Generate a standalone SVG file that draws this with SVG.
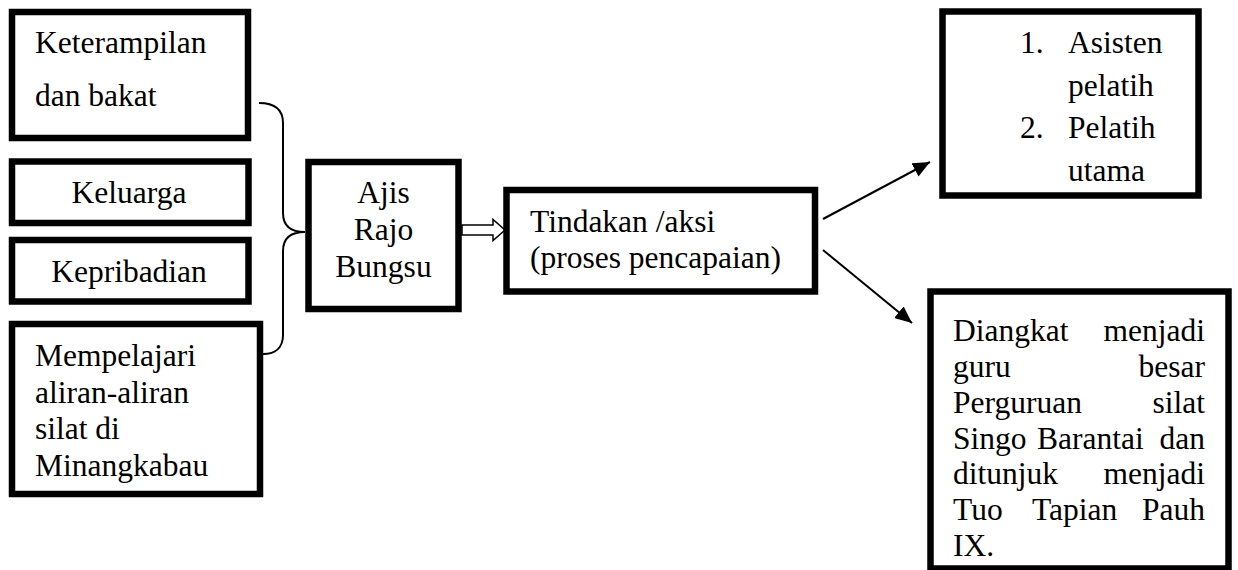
<svg xmlns="http://www.w3.org/2000/svg" width="1238" height="570" viewBox="0 0 1238 570">
<style>
.box{fill:#fff;stroke:#000;stroke-width:6.5}
.t{font-family:"Liberation Serif","Times New Roman",serif;font-size:31.5px;fill:#000}
.c{text-anchor:middle}
.e{text-anchor:end}
.ln{fill:none;stroke:#000;stroke-width:2}
</style>
<defs>
<marker id="ah" markerUnits="userSpaceOnUse" markerWidth="18" markerHeight="16" refX="17" refY="7.5" orient="auto">
<path d="M0,0 L17,7.5 L0,15 z" fill="#000"/>
</marker>
</defs>
<rect width="1238" height="570" fill="#fff"/>
<g id="connectors">
<path class="ln" stroke-width="1.5" d="M259,103 C276,103 283,110 283,123 L283,213 C283,225 290,232 305,232 C290,232 283,239 283,251 L283,335 C283,347 276,354 263,354"/>
<polygon points="462,225 493,225 493,219.5 505,230 493,240.5 493,235 462,235" fill="#fff" stroke="#000" stroke-width="1.5"/>
<line class="ln" x1="823" y1="219" x2="930" y2="162" marker-end="url(#ah)"/>
<line class="ln" x1="823" y1="250" x2="912" y2="323" marker-end="url(#ah)"/>
</g>
<g id="keterampilan">
<rect class="box" x="12" y="12" width="236" height="126"/>
<text class="t" x="35" y="53">Keterampilan</text>
<text class="t" x="35" y="106">dan bakat</text>
</g>
<g id="keluarga">
<rect class="box" x="12" y="161.5" width="236.5" height="61.5"/>
<text class="t c" x="129" y="203">Keluarga</text>
</g>
<g id="kepribadian">
<rect class="box" x="12" y="240" width="236.5" height="61.5"/>
<text class="t c" x="129" y="282">Kepribadian</text>
</g>
<g id="mempelajari">
<rect class="box" x="12" y="324" width="248" height="170"/>
<text class="t" x="35" y="366">Mempelajari</text>
<text class="t" x="35" y="402.5">aliran-aliran</text>
<text class="t" x="35" y="439">silat di</text>
<text class="t" x="35" y="475.5">Minangkabau</text>
</g>
<g id="ajis">
<rect class="box" x="308.5" y="162" width="150" height="147"/>
<text class="t c" x="383.5" y="203">Ajis</text>
<text class="t c" x="383.5" y="240">Rajo</text>
<text class="t c" x="383.5" y="277">Bungsu</text>
</g>
<g id="tindakan">
<rect class="box" x="506.5" y="190" width="308.5" height="101.5"/>
<text class="t" x="530" y="232">Tindakan /aksi</text>
<text class="t" x="530" y="268">(proses pencapaian)</text>
</g>
<g id="pelatih">
<rect class="box" x="942.5" y="11.5" width="256" height="184"/>
<text class="t" x="1020" y="53">1.</text>
<text class="t" x="1068" y="53">Asisten</text>
<text class="t" x="1068" y="95.5">pelatih</text>
<text class="t" x="1020" y="138">2.</text>
<text class="t" x="1068" y="138">Pelatih</text>
<text class="t" x="1068" y="180.5">utama</text>
</g>
<g id="gurubesar">
<rect class="box" x="930.5" y="291.5" width="298" height="277"/>
<text class="t" x="953" y="341">Diangkat</text>
<text class="t e" x="1205" y="341">menjadi</text>
<text class="t" x="953" y="377">guru</text>
<text class="t e" x="1205" y="377">besar</text>
<text class="t" x="953" y="413">Perguruan</text>
<text class="t e" x="1205" y="413">silat</text>
<text class="t" x="953" y="448.5">Singo</text>
<text class="t" x="1037" y="448.5">Barantai</text>
<text class="t e" x="1205" y="448.5">dan</text>
<text class="t" x="953" y="484">ditunjuk</text>
<text class="t e" x="1205" y="484">menjadi</text>
<text class="t" x="953" y="520">Tuo</text>
<text class="t" x="1032" y="520">Tapian</text>
<text class="t e" x="1205" y="520">Pauh</text>
<text class="t" x="953" y="556">IX.</text>
</g>
</svg>
